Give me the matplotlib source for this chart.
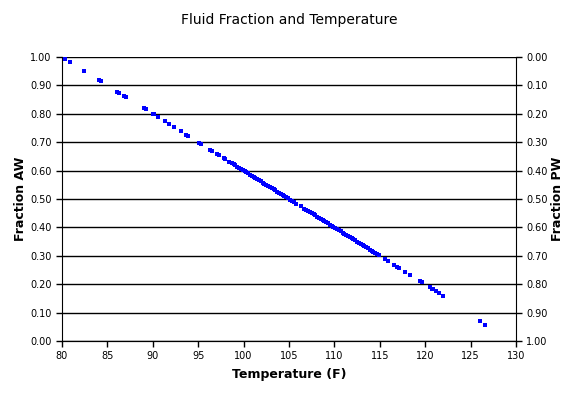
import matplotlib
matplotlib.use("Agg")
import matplotlib.pyplot as plt
from matplotlib.ticker import FormatStrFormatter, MultipleLocator

title = "Fluid Fraction and Temperature"
x_label = "Temperature (F)"
y_label_left = "Fraction AW"
y_label_right = "Fraction PW"

temperature = [
    80.3, 80.9, 82.4, 84.1, 84.3, 86.1, 86.3, 86.8, 87.1, 89.0, 89.2, 90.0, 90.1, 90.6,
    91.3, 91.8, 92.3, 93.1, 93.7, 93.9, 95.1, 95.3, 96.3, 96.5, 97.1, 97.3, 97.8, 98.0,
    98.4, 98.7, 98.9,
    99.1, 99.3, 99.5, 99.7, 99.9, 100.1, 100.3, 100.5, 100.7, 100.9, 101.1, 101.3, 101.5,
    101.7, 101.9, 102.1, 102.3, 102.5, 102.7, 102.9, 103.1, 103.3, 103.5, 103.7, 103.9,
    104.1, 104.3, 104.5, 104.7, 104.9, 105.1, 105.3, 105.5, 105.8, 106.3, 106.7, 106.9,
    107.1, 107.3, 107.5, 107.7, 107.9, 108.1, 108.3, 108.5, 108.7, 108.9, 109.1, 109.3,
    109.5, 109.7, 109.9, 110.1, 110.3, 110.5, 110.7, 110.9, 111.1, 111.3, 111.5, 111.7,
    111.9, 112.1, 112.3, 112.5, 112.7, 112.9, 113.1, 113.3, 113.5, 113.7, 113.9, 114.1,
    114.3, 114.5, 114.7, 114.9,
    115.6, 115.9, 116.6, 116.9, 117.1, 117.8, 118.3, 119.4, 119.6, 120.5, 120.8, 120.9,
    121.2, 121.5, 122.0, 126.0, 126.6,
]
fraction_aw = [
    0.994, 0.982, 0.952, 0.918, 0.914, 0.878, 0.874, 0.864, 0.858, 0.820, 0.816, 0.800, 0.798, 0.788,
    0.774, 0.764, 0.754, 0.738, 0.726, 0.722, 0.698, 0.694, 0.674, 0.670, 0.658, 0.654, 0.644, 0.640,
    0.632, 0.626, 0.622,
    0.618, 0.614, 0.610, 0.606, 0.602, 0.598, 0.594, 0.590, 0.586, 0.582, 0.578, 0.574, 0.570,
    0.566, 0.562, 0.558, 0.554, 0.550, 0.546, 0.542, 0.538, 0.534, 0.530, 0.526, 0.522,
    0.518, 0.514, 0.510, 0.506, 0.502, 0.498, 0.494, 0.490, 0.484, 0.474, 0.466, 0.462,
    0.458, 0.454, 0.450, 0.446, 0.442, 0.438, 0.434, 0.430, 0.426, 0.422, 0.418, 0.414,
    0.410, 0.406, 0.402, 0.398, 0.394, 0.390, 0.386, 0.382, 0.378, 0.374, 0.370, 0.366,
    0.362, 0.358, 0.354, 0.350, 0.346, 0.342, 0.338, 0.334, 0.330, 0.326, 0.322, 0.318,
    0.314, 0.310, 0.306, 0.302,
    0.288, 0.282, 0.268, 0.262, 0.258, 0.244, 0.234, 0.212, 0.208, 0.190, 0.184, 0.182,
    0.176, 0.170, 0.158, 0.070, 0.058,
]

plt.rcParams['font.family'] = ['DejaVu Sans']

fig = plt.figure(figsize=(5.76, 3.94), dpi=100)
ax = fig.add_axes([62/576, 1-341/394, (516-62)/576, (341-57)/394])

ax.scatter(temperature, fraction_aw, marker='s', s=6, color='#0000FF', linewidths=0, zorder=3)

ax.set_xlim(80, 130)
ax.set_ylim(0, 1)
ax.xaxis.set_major_locator(MultipleLocator(5))
ax.yaxis.set_major_locator(MultipleLocator(0.1))
ax.yaxis.set_major_formatter(FormatStrFormatter('%.2f'))
ax.grid(axis='y', color='black', linewidth=1)
ax.set_axisbelow(True)
ax.spines['top'].set_visible(False)
ax.spines['right'].set_visible(False)
ax.tick_params(axis='both', direction='out', length=4, width=1, labelsize=7, colors='black')

ax2 = ax.twinx()
ax2.set_ylim(1, 0)
ax2.yaxis.set_major_locator(MultipleLocator(0.1))
ax2.yaxis.set_major_formatter(FormatStrFormatter('%.2f'))
ax2.spines['top'].set_visible(False)
ax2.spines['left'].set_visible(False)
ax2.tick_params(axis='y', direction='out', length=4, width=1, labelsize=7)

ax.set_xlabel(x_label, fontsize=9, fontweight='bold', labelpad=5)
ax.set_ylabel(y_label_left, fontsize=9, fontweight='bold', labelpad=2)
ax2.set_ylabel(y_label_right, fontsize=9, fontweight='bold', labelpad=2)
fig.suptitle(title, fontsize=10, x=(62+516)/2/576, y=1-20/394, va='center')

fig.savefig("out.png", dpi=100)
